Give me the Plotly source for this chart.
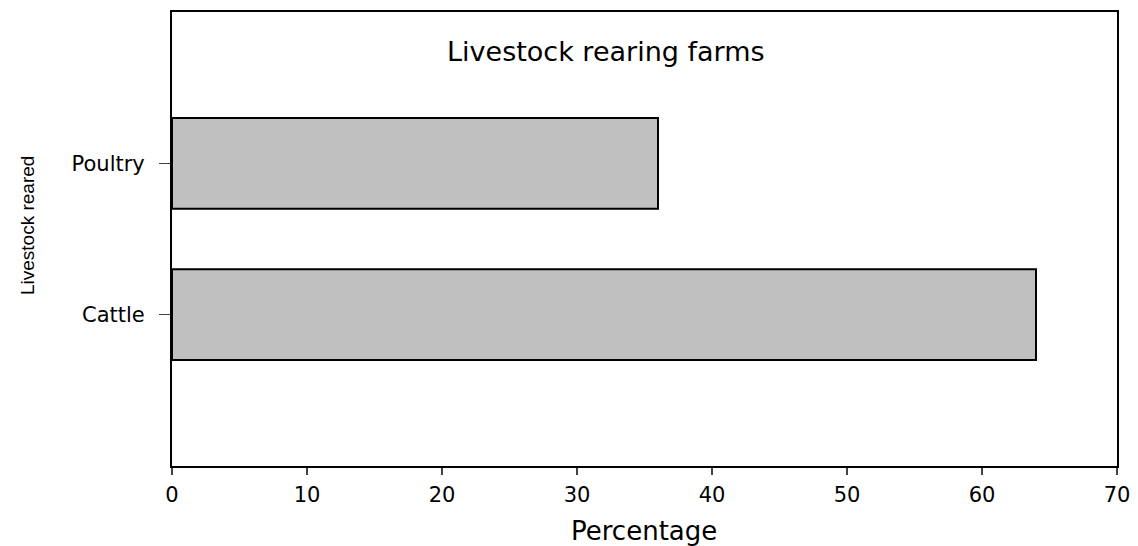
import plotly.graph_objects as go

categories = ["Cattle", "Poultry"]
percentages = [64, 36]
x_ticks = [0, 10, 20, 30, 40, 50, 60, 70]

fig = go.Figure()
fig.add_trace(go.Bar(
    y=categories, x=percentages, orientation="h", width=0.6,
    marker=dict(color="#c0c0c0", line=dict(color="black", width=2)),
))

OFF = 8  # default page body margin
W, H = 1138 - OFF, 546 - OFF
L, R, T, B = 172 - OFF, 21, 10 - OFF, 80
PW, PH = W - L - R, H - T - B


def px(xp):
    return (xp - OFF - L) / PW


def py(yp):
    return 1 - (yp - OFF - T) / PH


FONT = "DejaVu Sans, Verdana, sans-serif"
fig.update_layout(
    width=W, height=H,
    margin=dict(l=L, r=R, t=T, b=B),
    paper_bgcolor="white", plot_bgcolor="white",
    showlegend=False,
    font=dict(family=FONT, color="black"),
    xaxis=dict(range=[0, 70], tickvals=x_ticks, ticks="outside", ticklen=7, tickwidth=1.5,
               showline=True, linecolor="black", linewidth=2, mirror=True,
               showgrid=False, zeroline=False, tickfont=dict(size=21, family=FONT),
               ticklabelstandoff=2),
    yaxis=dict(range=[-1, 2], ticks="outside", ticklen=11, tickwidth=1.2,
               showline=True, linecolor="black", linewidth=2, mirror=True,
               showgrid=False, zeroline=False, tickfont=dict(size=21, family=FONT),
               ticklabelstandoff=10),
    annotations=[
        dict(text="Livestock rearing farms", x=px(606), y=py(50), xref="paper", yref="paper",
             xanchor="center", yanchor="middle", showarrow=False, font=dict(size=27, family=FONT)),
        dict(text="Percentage", x=px(644), y=py(531), xref="paper", yref="paper",
             xanchor="center", yanchor="middle", showarrow=False, font=dict(size=26, family=FONT)),
        dict(text="Livestock reared", x=px(27), y=py(225), xref="paper", yref="paper",
             xanchor="center", yanchor="middle", textangle=-90, showarrow=False,
             font=dict(size=19, family="Liberation Sans, Arial, sans-serif")),
    ],
)

fig.write_html("out.html")
